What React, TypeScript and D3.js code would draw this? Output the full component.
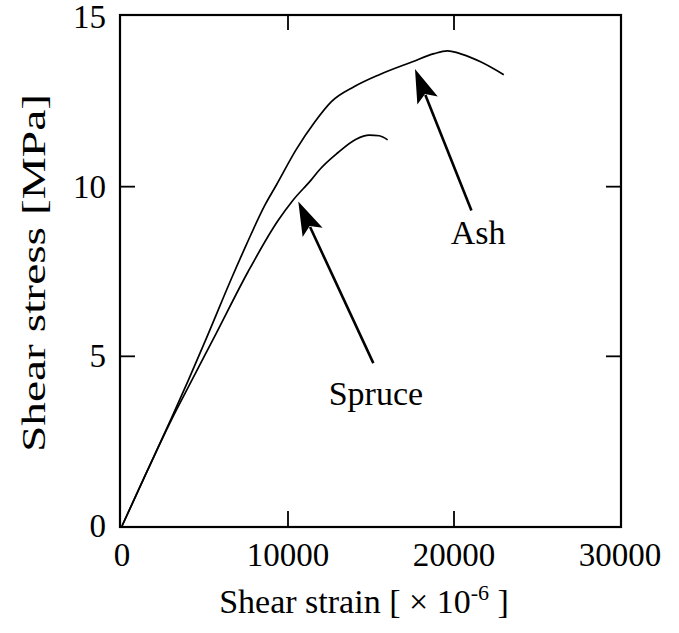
import { useEffect, useRef } from "react"
import * as d3 from "d3"

// strain [x 10^-6], stress [MPa]
const ashStrain = [0, 1500, 3000, 4000, 5100, 6600, 7500, 8600, 9300, 10500, 11600, 12600, 14000, 15500, 17500, 18800, 19600, 20500, 21600, 23000]
const ashStress = [0, 1.6, 3.2, 4.3, 5.55, 7.3, 8.3, 9.45, 10.05, 11.1, 11.9, 12.5, 12.95, 13.3, 13.68, 13.92, 14.0, 13.9, 13.68, 13.3]

const spruceStrain = [0, 1500, 3000, 4000, 5700, 7600, 9400, 10300, 11400, 11900, 13000, 14100, 14900, 15500, 16000]
const spruceStress = [0, 1.6, 3.15, 4.1, 5.7, 7.5, 9.0, 9.6, 10.2, 10.5, 11.0, 11.4, 11.52, 11.5, 11.38]

const xTicks = [0, 10000, 20000, 30000]
const yTicks = [0, 5, 10, 15]

// annotations: label, label position, arrow tail, arrow tip (data units)
const labels = [
    { name: "Ash", at: [19800, 8.3], from: [21050, 9.3], to: [17650, 13.47] },
    { name: "Spruce", at: [12450, 3.57], from: [15140, 4.8], to: [10620, 9.56] },
]

export default function App() {
    const ref = useRef<SVGSVGElement>(null)
    const width = 679, height = 633
    const font = "'Liberation Serif', 'Times New Roman', serif"

    useEffect(() => {
        const svg = d3.select(ref.current)
        svg.selectAll("*").remove()

        const x = d3.scaleLinear().domain([0, 30000]).range([122, 620])
        const y = d3.scaleLinear().domain([0, 15]).range([526, 17])

        const drawCurve = (xs: number[], ys: number[]) => {
            svg.append("path")
                .attr("fill", "none")
                .attr("stroke", "#000")
                .attr("stroke-width", 1.7)
                .attr("d", d3.line<number>()
                    .x((d) => x(d))
                    .y((d, i) => y(ys[i]))
                    .curve(d3.curveMonotoneX)(xs))
        }
        drawCurve(ashStrain, ashStress)
        drawCurve(spruceStrain, spruceStress)

        // frame
        svg.append("rect")
            .attr("x", x(0) - 2)
            .attr("y", 15)
            .attr("width", x(30000) - x(0) + 3)
            .attr("height", y(0) - 15 + 1)
            .attr("fill", "none")
            .attr("stroke", "#000")
            .attr("stroke-width", 2.2)

        // inward ticks on all four sides
        const inner = 15
        xTicks.slice(1, -1).forEach((t) => {
            svg.append("line").attr("x1", x(t)).attr("x2", x(t)).attr("y1", y(0)).attr("y2", y(0) - inner)
                .attr("stroke", "#000").attr("stroke-width", 1.8)
            svg.append("line").attr("x1", x(t)).attr("x2", x(t)).attr("y1", 15).attr("y2", 15 + inner)
                .attr("stroke", "#000").attr("stroke-width", 1.8)
        })
        yTicks.slice(1, -1).forEach((t) => {
            svg.append("line").attr("x1", x(0) - 2).attr("x2", x(0) - 2 + inner).attr("y1", y(t)).attr("y2", y(t))
                .attr("stroke", "#000").attr("stroke-width", 1.8)
            svg.append("line").attr("x1", x(30000) + 1).attr("x2", x(30000) + 1 - inner).attr("y1", y(t)).attr("y2", y(t))
                .attr("stroke", "#000").attr("stroke-width", 1.8)
        })

        // tick labels
        svg.selectAll(".xt")
            .data(xTicks)
            .join("text")
            .attr("x", (d) => x(d))
            .attr("y", 566)
            .attr("text-anchor", "middle")
            .style("font-family", font)
            .style("font-size", "33px")
            .text((d) => d)

        svg.selectAll(".yt")
            .data(yTicks)
            .join("text")
            .attr("x", 106)
            .attr("y", (d) => y(d) + 11)
            .attr("text-anchor", "end")
            .style("font-family", font)
            .style("font-size", "33px")
            .text((d) => d)

        // axis titles
        const xl = svg.append("text")
            .attr("x", 364)
            .attr("y", 613)
            .attr("text-anchor", "middle")
            .style("font-family", font)
            .style("font-size", "34px")
        xl.append("tspan").text("Shear strain [ × 10")
        xl.append("tspan").attr("dy", -13).style("font-size", "22px").text("-6")
        xl.append("tspan").attr("dy", 13).text(" ]")

        svg.append("text")
            .attr("transform", `translate(45, 273) rotate(-90)`)
            .attr("text-anchor", "middle")
            .attr("textLength", 358)
            .attr("lengthAdjust", "spacingAndGlyphs")
            .style("font-family", font)
            .style("font-size", "34px")
            .text("Shear stress [MPa]")

        // arrows
        labels.forEach((l) => {
            const x1 = x(l.from[0]), y1 = y(l.from[1])
            const x2 = x(l.to[0]), y2 = y(l.to[1])
            const ang = Math.atan2(y2 - y1, x2 - x1)
            const len = 34, half = 11, nb = 7
            const bx = x2 - len * Math.cos(ang), by = y2 - len * Math.sin(ang)
            const nx = -Math.sin(ang), ny = Math.cos(ang)
            svg.append("line")
                .attr("x1", x1).attr("y1", y1)
                .attr("x2", bx + 6 * Math.cos(ang)).attr("y2", by + 6 * Math.sin(ang))
                .attr("stroke", "#000").attr("stroke-width", 2.6)
            svg.append("path")
                .attr("d", `M${x2},${y2} L${bx + half * nx},${by + half * ny} L${bx + nb * Math.cos(ang)},${by + nb * Math.sin(ang)} L${bx - half * nx},${by - half * ny} Z`)
                .attr("fill", "#000")

            svg.append("text")
                .attr("x", x(l.at[0]))
                .attr("y", y(l.at[1]))
                .style("font-family", font)
                .style("font-size", "34px")
                .text(l.name)
        })
    }, [])

    return (
        <svg ref={ref} width={width} height={height}
            style={{ position: "absolute", left: 0, top: 0, background: "#fff" }} />
    )
}
